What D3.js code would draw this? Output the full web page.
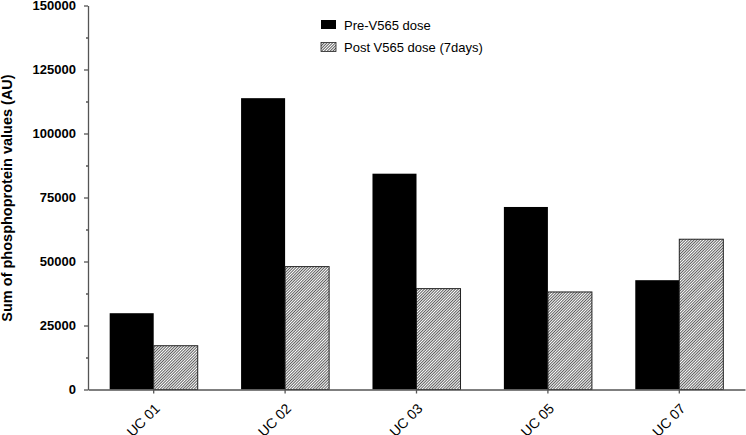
<!DOCTYPE html>
<html>
<head>
<meta charset="utf-8">
<script src="https://cdn.jsdelivr.net/npm/d3@7"></script>
<style>
	body { margin: 0; background: #fff; }
	svg { display: block; font-family: "Liberation Sans", Arial, sans-serif; }
</style>
</head>
<body>
<svg id="chart" width="746" height="435"></svg>
<script>
var categories = ["UC 01", "UC 02", "UC 03", "UC 05", "UC 07"];
var preDose = [29800, 113800, 84300, 71300, 42700];
var postDose = [17100, 48000, 39400, 38100, 58700];
var seriesNames = ["Pre-V565 dose", "Post V565 dose (7days)"];
var yMajorTicks = [0, 25000, 50000, 75000, 100000, 125000, 150000];
var yMinorTicks = [12500, 37500, 62500, 87500, 112500, 137500];

buildChart();

function buildChart() {
	var svg = d3.select("#chart"),
		width = +svg.attr("width"),
		height = +svg.attr("height");

	var left = 88, right = 745, top = 5.5, bottom = 389.5;

	// fine diagonal hatching for the post-dose bars
	var defs = svg.append("defs");
	var pat = defs.append("pattern")
		.attr("id", "hatch")
		.attr("patternUnits", "userSpaceOnUse")
		.attr("width", 2)
		.attr("height", 2)
		.attr("patternTransform", "rotate(45)");
	pat.append("rect").attr("width", 2).attr("height", 2).attr("fill", "#fff");
	pat.append("line")
		.attr("x1", 0.5).attr("y1", 0).attr("x2", 0.5).attr("y2", 2)
		.attr("stroke", "#333").attr("stroke-width", 0.8);

	var x = d3.scaleBand()
		.domain(categories)
		.range([left, right])
		.paddingInner(0.33)
		.paddingOuter(0.165);

	var y = d3.scaleLinear()
		.domain([0, 150000])
		.range([bottom, top]);

	var bw = x.bandwidth() / 2;

	var data = categories.map(function(c, i) {
		return { cat: c, pre: preDose[i], post: postDose[i] };
	});

	// pre dose bars
	svg.append("g")
		.selectAll("rect")
		.data(data)
		.enter().append("rect")
			.attr("x", function(d) { return x(d.cat); })
			.attr("y", function(d) { return y(d.pre); })
			.attr("width", bw)
			.attr("height", function(d) { return y(0) - y(d.pre); })
			.attr("fill", "#000");

	// post dose bars
	svg.append("g")
		.selectAll("rect")
		.data(data)
		.enter().append("rect")
			.attr("x", function(d) { return x(d.cat) + bw; })
			.attr("y", function(d) { return y(d.post); })
			.attr("width", bw)
			.attr("height", function(d) { return y(0) - y(d.post); })
			.attr("fill", "url(#hatch)")
			.attr("stroke", "#222")
			.attr("stroke-width", 1);

	// y axis
	var yAxis = svg.append("g")
		.attr("transform", "translate(" + left + ",0)")
		.call(d3.axisLeft(y).tickValues(yMajorTicks).tickSize(4).tickSizeOuter(0).tickPadding(8).tickFormat(d3.format("d")));
	svg.append("g")
		.attr("transform", "translate(" + left + ",0)")
		.call(d3.axisLeft(y).tickValues(yMinorTicks).tickSize(2).tickSizeOuter(0).tickFormat(""))
		.select(".domain").remove();

	yAxis.selectAll("text")
		.attr("font-size", 13)
		.attr("font-weight", "bold")
		.attr("font-family", "Liberation Sans, Arial, sans-serif")
		.attr("fill", "#000");

	// x axis
	var xAxis = svg.append("g")
		.attr("transform", "translate(0," + bottom + ")")
		.call(d3.axisBottom(x).tickSize(4).tickSizeOuter(0));

	xAxis.selectAll("text")
		.attr("font-size", 14)
		.attr("font-family", "Liberation Sans, Arial, sans-serif")
		.attr("fill", "#000")
		.attr("text-anchor", "end")
		.attr("dy", null)
		.attr("y", null)
		.attr("transform", "translate(7,20) rotate(-45)");

	svg.selectAll(".domain, .tick line")
		.attr("stroke", "#555")
		.attr("stroke-width", 1.3);

	// y label
	svg.append("text")
		.attr("transform", "translate(12,198) rotate(-90)")
		.attr("text-anchor", "middle")
		.attr("font-size", 14.5)
		.attr("font-weight", "bold")
		.text("Sum of phosphoprotein values (AU)");

	// legend
	var legend = svg.append("g")
		.selectAll("g")
		.data(seriesNames)
		.enter().append("g")
			.attr("transform", function(d, i) { return "translate(321," + (20 + i * 22.5) + ")"; });

	legend.append("rect")
		.attr("width", 15)
		.attr("height", 9)
		.attr("fill", function(d, i) { return i == 0 ? "#000" : "url(#hatch)"; })
		.attr("stroke", function(d, i) { return i == 0 ? "none" : "#222"; })
		.attr("stroke-width", 0.8);

	legend.append("text")
		.attr("x", 23)
		.attr("y", 9.5)
		.attr("font-size", 13)
		.text(function(d) { return d; });
}
</script>
</body>
</html>
